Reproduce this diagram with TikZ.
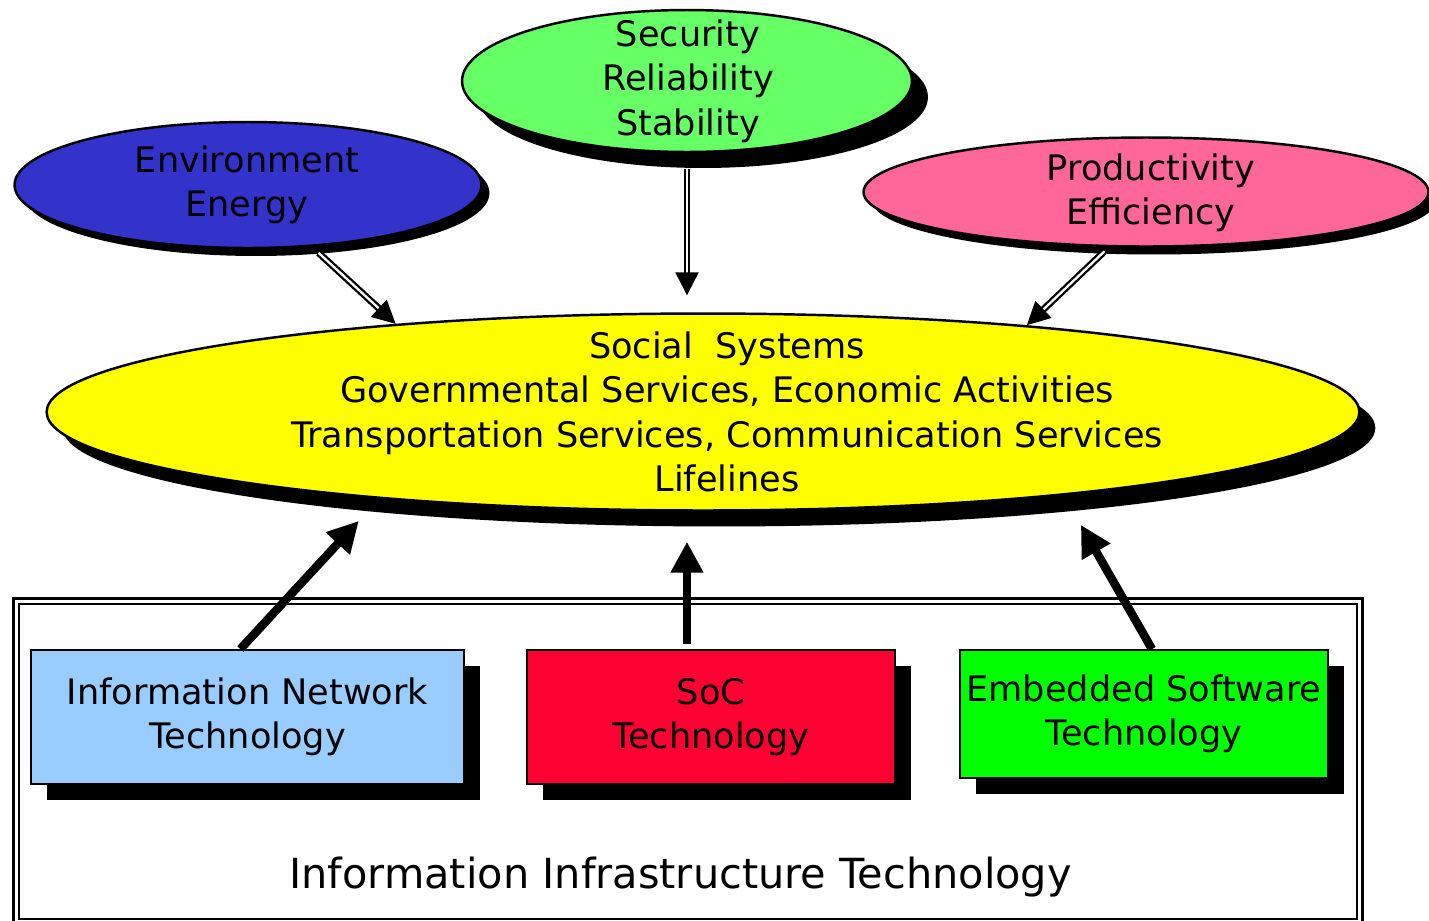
\documentclass[tikz,border=0pt]{standalone}
\usepackage{fontspec}
\setmainfont{DejaVu Sans}
\usepackage{tikz}
\usetikzlibrary{arrows.meta,shapes.geometric,shadows}
\definecolor{envBlue}{HTML}{3333CC}
\definecolor{secGreen}{HTML}{66FF66}
\definecolor{prodPink}{HTML}{FF6699}
\definecolor{socYellow}{HTML}{FFFF00}
\definecolor{netBlue}{HTML}{99CCFF}
\definecolor{socRed}{HTML}{FF0033}
\definecolor{embGreen}{HTML}{00FF00}
\tikzstyle{blackShadow} = [drop shadow={shadow xshift=0.32cm, shadow yshift=-0.32cm, fill=black, opacity=1}]
\tikzstyle{thinShadow} = [drop shadow={shadow xshift=0.16cm, shadow yshift=-0.16cm, fill=black, opacity=1}]
\tikzstyle{ellNode} = [ellipse, draw=black, line width=1.4pt, inner sep=0pt]
\tikzstyle{boxNode} = [rectangle, draw=black, line width=1.1pt, inner sep=0pt, align=center, blackShadow, font=\fontsize{20}{25.3}\selectfont]
\tikzstyle{txtNode} = [align=center, inner sep=0pt, font=\fontsize{20}{25.3}\selectfont]
\tikzstyle{frameNode} = [rectangle, draw=black, double=white, double distance=0.06cm, line width=0.05cm]
\tikzstyle{dblArrow} = [draw=black, double=white, double distance=0.046cm, line width=0.046cm, -{Triangle[length=0.46cm,width=0.46cm]}]
\tikzstyle{fatArrow} = [draw=black, line width=0.17cm, -{Triangle[length=0.62cm,width=0.62cm]}]

\begin{document}
\begin{tikzpicture}[x=0.02cm, y=-0.02cm]
    \useasboundingbox (0,0) rectangle (1429,920);

    % outer frame
    \node (infra) [frameNode, minimum width=26.88cm, minimum height=6.42cm] at (688,761.5) {};
    \node (infraText) [txtNode, font=\fontsize{23.6}{28}\selectfont] at (680.5,877) {Information Infrastructure Technology};

    % goals
    \node (env) [ellNode, thinShadow, fill=envBlue, minimum width=9.34cm, minimum height=2.52cm] at (248,185) {};
    \node (sec) [ellNode, blackShadow, fill=secGreen, minimum width=9cm, minimum height=2.84cm] at (687,81) {};
    \node (prod) [ellNode, thinShadow, fill=prodPink, minimum width=11.3cm, minimum height=2.18cm] at (1146,192) {};
    \node (envText) [txtNode] at (247,185) {Environment\\Energy};
    \node (secText) [txtNode] at (688,81) {Security\\Reliability\\Stability};
    \node (prodText) [txtNode] at (1151,193) {Productivity\\Efficiency};

    % social systems
    \node (soc) [ellNode, blackShadow, fill=socYellow, minimum width=26.26cm, minimum height=3.94cm] at (703,412) {};
    \node (socText) [txtNode] at (727,412) {Social~ Systems\\Governmental Services, Economic Activities\\Transportation Services, Communication Services\\Lifelines};

    % technologies
    \node (net) [boxNode, fill=netBlue, minimum width=8.66cm, minimum height=2.68cm] at (247.5,717) {Information Network\\Technology};
    \node (chip) [boxNode, fill=socRed, minimum width=7.36cm, minimum height=2.68cm] at (711,717) {SoC\\Technology};
    \node (emb) [boxNode, fill=embGreen, minimum width=7.36cm, minimum height=2.56cm] at (1144,714) {Embedded Software\\Technology};

    \draw [dblArrow, shorten <=0.18cm] (env.-44) -- (soc.164);
    \draw [dblArrow, shorten <=0.32cm, shorten >=0.34cm] (sec.south) -- (soc.north -| sec.south);
    \draw [dblArrow, shorten <=0.12cm] (prod.-124) -- (soc.15);

    \draw [fatArrow, shorten >=0.6cm] (net.96) -- (soc.195.6);
    \draw [fatArrow, shorten <=0.1cm, shorten >=0.6cm] (chip.north -| sec.south) -- (soc.south -| sec.south);
    \draw [fatArrow, shorten >=0.68cm] (emb.83) -- (soc.-13.5);
\end{tikzpicture}
\end{document}
